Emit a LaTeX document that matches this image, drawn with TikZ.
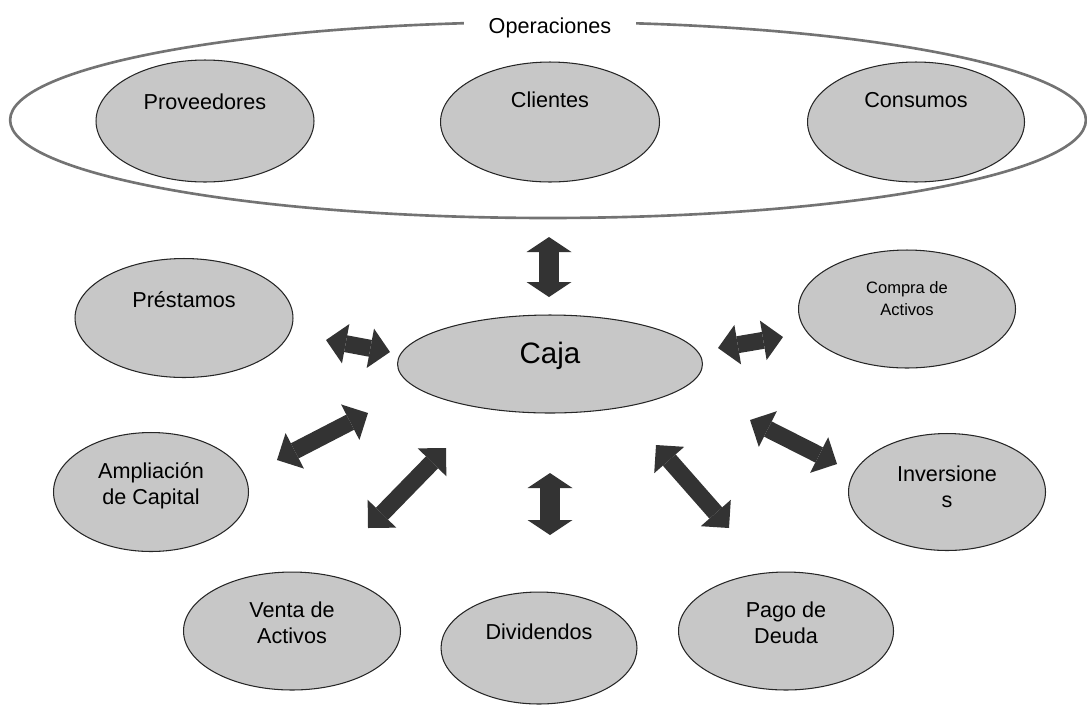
\documentclass[tikz,border=0pt]{standalone}
\usepackage{fontspec}
\setmainfont{Liberation Sans}
\usetikzlibrary{shapes.geometric,arrows.meta}

\begin{document}
\begin{tikzpicture}[x=0.02cm,y=-0.02cm,
        burbuja/.style={ellipse,draw=black!85,line width=0.6pt,fill=black!22,inner sep=0pt},
        rotulo/.style={align=center,inner sep=0pt,font=\fontsize{12.3}{14.7}\selectfont},
        flecha/.style={draw=black!80,line width=0.34cm,<->,>={Triangle[width=0.8cm,length=0.4cm,line width=0pt]}},
        flechav/.style={draw=black!80,line width=0.4cm,<->,>={Triangle[width=0.9cm,length=0.3cm,line width=0pt]}}]
                \useasboundingbox (0,0) rectangle (1087,704);
                \node[ellipse,draw=black!55,line width=1.5pt,minimum width=21.52cm,minimum height=3.92cm] (oper) at (548,120) {};
                \node[rotulo,fill=white,inner xsep=0.5cm,inner ysep=2pt] (toper) at (550,28) {Operaciones};
                \node[burbuja,minimum width=4.36cm,minimum height=2.44cm] (prov) at (205,121) {};
                \node[burbuja,minimum width=4.38cm,minimum height=2.40cm] (clien) at (550,122) {};
                \node[burbuja,minimum width=4.34cm,minimum height=2.40cm] (consu) at (916,122) {};
                \node[rotulo] (tprov) at (205,102) {Proveedores};
                \node[rotulo] (tclien) at (550,100) {Clientes};
                \node[rotulo] (tconsu) at (916,100) {Consumos};
                \node[burbuja,minimum width=6.10cm,minimum height=1.96cm] (caja) at (550,364) {};
                \node[rotulo,font=\fontsize{16.8}{20}\selectfont] (tcaja) at (550,356) {Caja};
                \node[burbuja,minimum width=4.36cm,minimum height=2.38cm] (prest) at (184,318) {};
                \node[rotulo] (tprest) at (184,300) {Préstamos};
                \node[burbuja,minimum width=4.34cm,minimum height=2.36cm] (compra) at (907,309) {};
                \node[rotulo,font=\fontsize{9.4}{12.5}\selectfont] (tcompra) at (907,299) {Compra de\\Activos};
                \node[burbuja,minimum width=3.90cm,minimum height=2.38cm] (ampl) at (151,492) {};
                \node[rotulo] (tampl) at (151,486) {Ampliación\\de Capital};
                \node[burbuja,minimum width=3.94cm,minimum height=2.34cm] (inver) at (947,492) {};
                \node[rotulo] (tinver) at (947,487) {Inversione\\s};
                \node[burbuja,minimum width=4.34cm,minimum height=2.36cm] (venta) at (292,631) {};
                \node[rotulo] (tventa) at (292,623) {Venta de\\Activos};
                \node[burbuja,minimum width=3.92cm,minimum height=2.24cm] (divid) at (539,648) {};
                \node[rotulo] (tdivid) at (539,632) {Dividendos};
                \node[burbuja,minimum width=4.30cm,minimum height=2.36cm] (pago) at (786,631) {};
                \node[rotulo] (tpago) at (786,623) {Pago de\\Deuda};
                \coordinate (a1) at (549,237); \coordinate (a2) at (549,297);
                \coordinate (b1) at (326,340); \coordinate (b2) at (390,352);
                \coordinate (c1) at (718,348); \coordinate (c2) at (783,337);
                \coordinate (d1) at (277,460); \coordinate (d2) at (368,413);
                \coordinate (e1) at (750,420); \coordinate (e2) at (837,464);
                \coordinate (f1) at (368,528); \coordinate (f2) at (446,448);
                \coordinate (g1) at (550,473); \coordinate (g2) at (550,535);
                \coordinate (h1) at (656,445); \coordinate (h2) at (729,528);
                \draw[flechav] (a1) -- (a2);
                \draw[flecha] (b1) -- (b2);
                \draw[flecha] (c1) -- (c2);
                \draw[flecha] (d1) -- (d2);
                \draw[flecha] (e1) -- (e2);
                \draw[flecha] (f1) -- (f2);
                \draw[flechav] (g1) -- (g2);
                \draw[flecha] (h1) -- (h2);
        \end{tikzpicture}
\end{document}
